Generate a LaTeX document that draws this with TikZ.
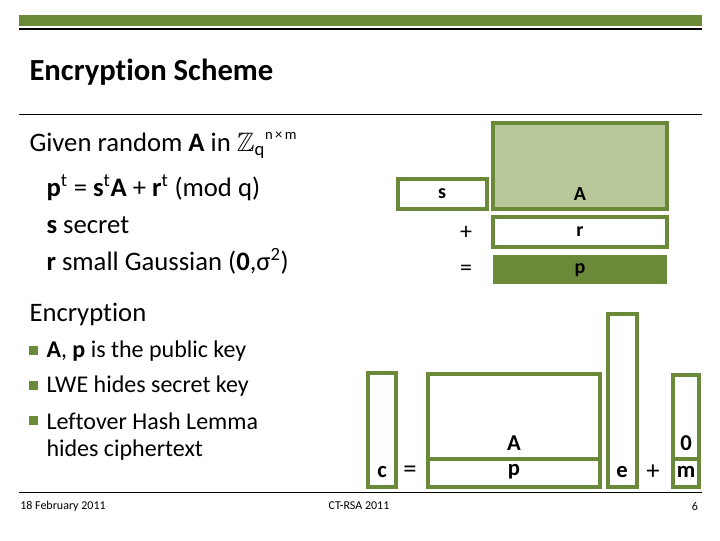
\documentclass[tikz,border=0pt]{standalone}
\usepackage{amssymb}
\usepackage{fontspec}
\setmainfont[Ligatures=NoCommon]{Carlito}
\definecolor{olive}{RGB}{107,138,57}
\definecolor{lolive}{RGB}{183,199,154}
\tikzset{every picture/.style={line width=0.75pt}}
\tikzset{mbox/.style={draw=olive,line width=2.6pt},
  lbl/.style={inner sep=0.75pt,font=\fontsize{15}{18}\selectfont\bfseries},
  op/.style={inner sep=0.75pt,font=\fontsize{18}{20}\selectfont},
  body/.style={anchor=west,inner sep=0.75pt,font=\fontsize{20}{24}\selectfont},
  bul/.style={anchor=west,inner sep=0.75pt,font=\fontsize{18}{21}\selectfont}}
\begin{document}
\begin{tikzpicture}[x=0.75pt,y=0.75pt,yscale=-1,xscale=1]
\useasboundingbox (0,0) rectangle (720,540);

%Header bars
\fill [olive] (19,15) rectangle (702,26);
\draw [line width=2.2pt] (19,29) -- (702,29);
\draw (19,114) -- (702,114);
\draw (19,492) -- (702,492);

% Title
\node (title) [anchor=west,inner sep=0.75pt,font=\fontsize{23}{27}\selectfont\bfseries] at (28,72) {Encryption Scheme};

% Key generation text
\node (given) [body] at (28,145) {Given random \textbf{A} in $\mathbb{Z}_{\mathrm{q}}$\raisebox{0.9ex}{\fontsize{11}{12}\selectfont n\,×\,m}};
\node (eqn) [body] at (45,188) {\textbf{p}\textsuperscript{t} = \textbf{s}\textsuperscript{t}\textbf{A} + \textbf{r}\textsuperscript{t} (mod q)};
\node (sec) [body] at (45,225) {\textbf{s} secret};
\node (gau) [body] at (45,261) {\textbf{r} small Gaussian (\textbf{0},σ\textsuperscript{2})};

% Encryption text
\node (enc) [body] at (28,314) {Encryption};
\foreach \yy/\tt in {351/{\textbf{A}, \textbf{p} is the public key},386/{LWE hides secret key},421/{Leftover Hash Lemma}}
  {\fill [olive] (29,\yy-5) rectangle (38,\yy+4);
   \node [bul] at (45,\yy) {\tt};}
\node (hid) [bul] at (45,450) {hides ciphertext};

% Footer
\node (date) [inner sep=0.75pt,font=\fontsize{9}{10}\selectfont] at (63,506) {18 February 2011};
\node (conf) [inner sep=0.75pt,font=\fontsize{9}{10}\selectfont] at (359,506) {CT-RSA 2011};
\node (page) [inner sep=0.75pt,font=\fontsize{9}{10}\selectfont] at (695,506) {6};

% Public key picture
\draw [mbox,fill=lolive] (493,123) rectangle (667,209);
\draw [mbox] (398,179) rectangle (487,209);
\draw [mbox] (493,217) rectangle (667,247);
\fill [olive] (493,255) rectangle (667,284);
\node (A) [lbl] at (580,194) {A};
\node (s) [lbl] at (442,194) {s};
\node (r) [lbl] at (580,232) {r};
\node (p) [lbl] at (580,270) {p};
\node (plus) [op] at (466,233) {+};
\node (eq) [op] at (466,270) {=};

% Ciphertext picture
\draw [mbox] (368,373) rectangle (396,487);
\draw [mbox] (428,374) rectangle (600,487);
\draw [olive,line width=2.6pt] (428,459) -- (600,459);
\draw [mbox] (608,314) rectangle (637,487);
\draw [mbox] (673,375) rectangle (699,487);
\draw [olive,line width=2.6pt] (673,459) -- (699,459);
\node (c) [lbl,font=\fontsize{17}{19}\selectfont\bfseries] at (382,472) {c};
\node (eq2) [op,font=\fontsize{20}{22}\selectfont] at (410,472) {=};
\node (A2) [lbl,font=\fontsize{17}{19}\selectfont\bfseries] at (514,443) {A};
\node (p2) [lbl,font=\fontsize{17}{19}\selectfont\bfseries] at (514,472) {p};
\node (e) [lbl,font=\fontsize{17}{19}\selectfont\bfseries] at (622,472) {e};
\node (plus2) [op,font=\fontsize{20}{22}\selectfont] at (653,472) {+};
\node (zero) [lbl,font=\fontsize{17}{19}\selectfont\bfseries] at (686,443) {0};
\node (m) [lbl,font=\fontsize{17}{19}\selectfont\bfseries] at (686,472) {m};
\end{tikzpicture}
\end{document}
